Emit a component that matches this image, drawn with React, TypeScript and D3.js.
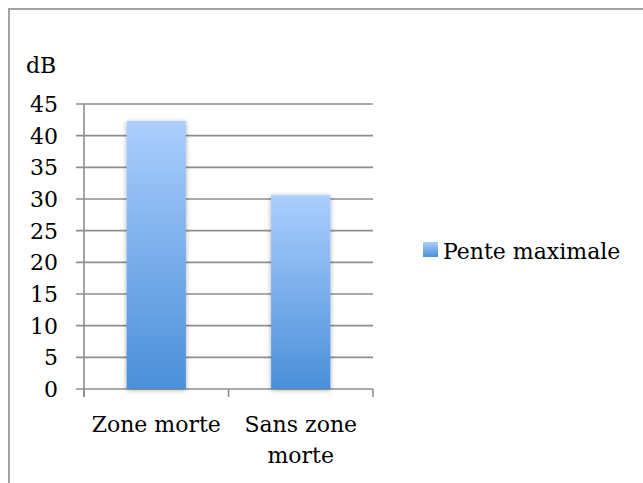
import React from "react";
import * as d3 from "d3";

const categories: string[][] = [["Zone morte"], ["Sans zone", "morte"]];
const values: number[] = [42.3, 30.6];
const yTicks: number[] = [0, 5, 10, 15, 20, 25, 30, 35, 40, 45];
const seriesName = "Pente maximale";
const unitLabel = "dB";

const W = 643;
const H = 483;
const FONT = "'DejaVu Serif', serif";
const FS = 22;

export default function App() {
  const plotLeft = 84;
  const plotRight = 373;
  const y = d3.scaleLinear().domain([0, 45]).range([389, 104]);
  const x = d3
    .scaleBand<number>()
    .domain(categories.map((_, i) => i))
    .range([plotLeft, plotRight])
    .paddingInner(0.59)
    .paddingOuter(0.295);
  const band = d3
    .scaleBand<number>()
    .domain(categories.map((_, i) => i))
    .range([plotLeft, plotRight]);

  return (
    <svg
      width={W}
      height={H}
      style={{ position: "absolute", left: 0, top: 0, background: "#fff" }}
      fontFamily={FONT}
    >
      <defs>
        <linearGradient id="barGrad" x1="0" y1="0" x2="0" y2="1">
          <stop offset="0" stopColor="#abcefe" />
          <stop offset="1" stopColor="#4a8fd9" />
        </linearGradient>
        <linearGradient id="legGrad" x1="0" y1="0" x2="0" y2="1">
          <stop offset="0" stopColor="#abcefe" />
          <stop offset="1" stopColor="#4a8fd9" />
        </linearGradient>
        <filter id="shadow" x="-20%" y="-10%" width="140%" height="120%">
          <feGaussianBlur in="SourceAlpha" stdDeviation="2.5" />
          <feOffset dx="0" dy="1" result="b" />
          <feComponentTransfer>
            <feFuncA type="linear" slope="0.35" />
          </feComponentTransfer>
          <feMerge>
            <feMergeNode />
            <feMergeNode in="SourceGraphic" />
          </feMerge>
        </filter>
      </defs>
      <rect x={9} y={9} width={W + 20} height={H + 20} fill="#fff" stroke="#a3a3a3" strokeWidth={2} />
      <text x={26} y={73} fontSize={FS} fill="#000">
        {unitLabel}
      </text>
      {yTicks.map((t) => (
        <g key={t}>
          <line x1={76} x2={plotRight} y1={y(t)} y2={y(t)} stroke="#8e8e8e" strokeWidth={1.6} />
          <text x={58} y={y(t)} dy="0.36em" textAnchor="end" fontSize={FS} fill="#000">
            {t}
          </text>
        </g>
      ))}
      <line x1={plotLeft} x2={plotLeft} y1={y(45)} y2={y(0) + 8} stroke="#8e8e8e" strokeWidth={1.6} />
      {[0, 1, 2].map((i) => {
        const xx = plotLeft + i * band.step();
        return <line key={i} x1={xx} x2={xx} y1={y(0)} y2={y(0) + 8} stroke="#8e8e8e" strokeWidth={1.6} />;
      })}
      {values.map((v, i) => (
        <rect
          key={i}
          x={x(i)}
          y={y(v)}
          width={x.bandwidth()}
          height={y(0) - y(v)}
          fill="url(#barGrad)"
          filter="url(#shadow)"
        />
      ))}
      {categories.map((lines, i) => (
        <text
          key={i}
          x={(band(i) as number) + band.bandwidth() / 2}
          y={432}
          textAnchor="middle"
          fontSize={FS}
          fill="#000"
        >
          {lines.map((l, j) => (
            <tspan key={j} x={(band(i) as number) + band.bandwidth() / 2} dy={j === 0 ? 0 : 31}>
              {l}
            </tspan>
          ))}
        </text>
      ))}
      <rect x={423} y={242} width={15} height={15} fill="url(#legGrad)" />
      <text x={443} y={259} fontSize={FS} fill="#000">
        {seriesName}
      </text>
    </svg>
  );
}
